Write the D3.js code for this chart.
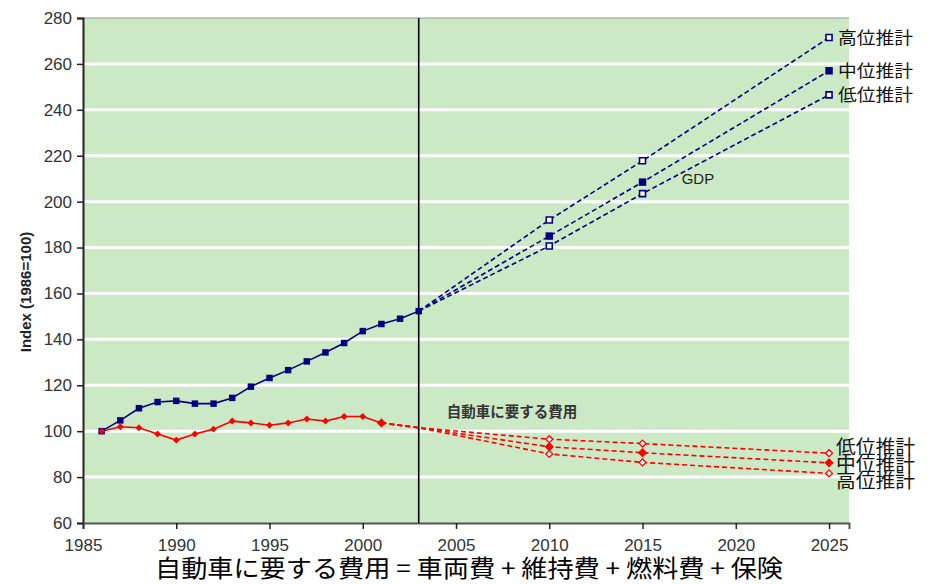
<!DOCTYPE html>
<html><head><meta charset="utf-8">
<script src="https://cdn.jsdelivr.net/npm/d3@7"></script>
<style>
body{margin:0;background:#fff;}
svg{display:block;}
</style></head>
<body><svg id="c" width="928" height="584"></svg>
<script>
// ---- data ----
const histYears = [1986,1987,1988,1989,1990,1991,1992,1993,1994,1995,1996,1997,1998,1999,2000,2001,2002,2003];
const gdpHist   = [100,104.7,110,112.7,113.2,112,112,114.5,119.4,123.2,126.6,130.4,134.3,138.4,143.6,146.7,149,152.3];
const costYears = [1986,1987,1988,1989,1990,1991,1992,1993,1994,1995,1996,1997,1998,1999,2000,2001];
const costHist  = [100,101.9,101.5,98.8,96.1,98.8,100.9,104.4,103.6,102.6,103.6,105.3,104.4,106.4,106.4,103.6];
const bridgeYears = [2001,2003];
const costBridge  = [103.6,101.5];
const projYears = [2010,2015,2025];
const gdpHigh = [192,217.8,271.5];
const gdpMid  = [185,208.5,257];
const gdpLow  = [180.7,203.5,246.5];
const costLow  = [96.5,94.6,90.4];
const costMid  = [93.2,90.6,86.2];
const costHigh = [90.1,86.4,81.6];
const scenarioNames = ["高位推計","中位推計","低位推計"];
const xTicks = [1985,1990,1995,2000,2005,2010,2015,2020,2025];
const yTicks = [60,80,100,120,140,160,180,200,220,240,260,280];
const dividerYear = 2003;
const yLabel = "Index (1986=100)";
const gdpLabel = "GDP";
const costLabel = "自動車に要する費用";
const caption = "自動車に要する費用 = 車両費 + 維持費 + 燃料費 + 保険";

// ---- layout ----
const L = 83, R = 849, T = 18, B = 523;
const NAVY = "#000080", RED = "#ff0000";
const latin = "'Liberation Sans', Arial, sans-serif";
const cjk = "'Noto Sans CJK JP', 'Noto Sans', sans-serif";

const svg = d3.select("#c");
const x = d3.scaleLinear().domain([1985, 2026.07]).range([L, R]);
const y = d3.scaleLinear().domain([60, 280]).range([B, T]);

// background
svg.append("rect").attr("x", L).attr("y", T).attr("width", R - L).attr("height", B - T).attr("fill", "#cce9c5");
// grid
svg.append("g").selectAll("line").data(yTicks.filter(v => v > 60 && v < 280)).join("line")
  .attr("x1", L).attr("x2", R).attr("y1", d => y(d)).attr("y2", d => y(d))
  .attr("stroke", "#fff").attr("stroke-width", 3);
// top border
svg.append("line").attr("x1", L).attr("x2", R).attr("y1", T).attr("y2", T).attr("stroke", "#999").attr("stroke-width", 1);

// axes
const yAxis = svg.append("g").attr("transform", `translate(${L},0)`)
  .call(d3.axisLeft(y).tickValues(yTicks).tickSize(6).tickPadding(5));
const xAxis = svg.append("g").attr("transform", `translate(0,${B})`)
  .call(d3.axisBottom(x).tickValues(xTicks).tickFormat(d3.format("d")).tickSize(6).tickPadding(10));
[yAxis, xAxis].forEach(a => {
  a.attr("font-size", 17).attr("font-family", latin);
  a.select(".domain").attr("stroke", "#222").attr("stroke-width", 2);
  a.selectAll(".tick line").attr("stroke", "#222").attr("stroke-width", 1.5);
  a.selectAll("text").attr("font-family", latin).attr("font-size", 17).attr("fill", "#333");
});
xAxis.select(".domain").attr("stroke", "#555");

// y label
svg.append("text").attr("transform", "translate(31,292) rotate(-90)")
  .attr("text-anchor", "middle").attr("font-family", latin).attr("font-weight", "bold")
  .attr("font-size", 15).attr("fill", "#222").text(yLabel);

// divider
svg.append("line").attr("x1", x(dividerYear)).attr("x2", x(dividerYear)).attr("y1", T).attr("y2", B)
  .attr("stroke", "#000").attr("stroke-width", 1.6);

const line = d3.line().x(d => x(d[0])).y(d => y(d[1]));
const zip = (xs, ys) => xs.map((v, i) => [v, ys[i]]);

// ---- GDP projections ----
const gdpStart = [histYears[histYears.length - 1], gdpHist[gdpHist.length - 1]];
const gdpProj = [gdpHigh, gdpMid, gdpLow];
gdpProj.forEach(s => {
  svg.append("path").datum([gdpStart].concat(zip(projYears, s))).attr("d", line)
    .attr("fill", "none").attr("stroke", NAVY).attr("stroke-width", 1.6).attr("stroke-dasharray", "5,3");
});
// ---- cost projections ----
const costProj = [costLow, costMid, costHigh];
const costStartPts = zip(bridgeYears, costBridge);
costProj.forEach(s => {
  svg.append("path").datum(costStartPts.concat(zip(projYears, s))).attr("d", line)
    .attr("fill", "none").attr("stroke", RED).attr("stroke-width", 1.6).attr("stroke-dasharray", "5,3");
});

// ---- history lines ----
svg.append("path").datum(zip(histYears, gdpHist)).attr("d", line)
  .attr("fill", "none").attr("stroke", NAVY).attr("stroke-width", 1.6);
svg.append("path").datum(zip(costYears, costHist)).attr("d", line)
  .attr("fill", "none").attr("stroke", RED).attr("stroke-width", 1.6);

// markers
const sq = d3.symbol().type(d3.symbolSquare);
svg.append("g").selectAll("path").data(zip(histYears, gdpHist)).join("path")
  .attr("transform", d => `translate(${x(d[0])},${y(d[1])})`)
  .attr("d", sq.size(42)()).attr("fill", NAVY);
svg.append("g").selectAll("path").data(zip(costYears, costHist)).join("path")
  .attr("transform", d => `translate(${x(d[0])},${y(d[1])}) rotate(45)`)
  .attr("d", (d, i) => sq.size(i === costYears.length - 1 ? 44 : 24)()).attr("fill", RED);

const openFlags = [true, false, true];
gdpProj.forEach((s, k) => {
  svg.append("g").selectAll("path").data(zip(projYears, s)).join("path")
    .attr("transform", d => `translate(${x(d[0])},${y(d[1])})`)
    .attr("d", sq.size(openFlags[k] ? 36 : 56)())
    .attr("fill", openFlags[k] ? "#fff" : NAVY).attr("stroke", NAVY).attr("stroke-width", openFlags[k] ? 1.6 : 0);
});
costProj.forEach((s, k) => {
  svg.append("g").selectAll("path").data(zip(projYears, s)).join("path")
    .attr("transform", d => `translate(${x(d[0])},${y(d[1])}) rotate(45)`)
    .attr("d", sq.size(openFlags[k] ? 24 : 44)())
    .attr("fill", openFlags[k] ? "#fff" : RED).attr("stroke", RED).attr("stroke-width", openFlags[k] ? 1.3 : 0);
});

// scenario labels
const lastIdx = projYears.length - 1;
gdpProj.forEach((s, k) => {
  svg.append("text").attr("x", x(projYears[lastIdx]) + 9).attr("y", y(s[lastIdx]) + 6)
    .attr("font-family", cjk).attr("font-size", 17).attr("fill", "#111")
    .attr("textLength", 75).attr("lengthAdjust", "spacingAndGlyphs").text(scenarioNames[k]);
});
const costNames = [scenarioNames[2], scenarioNames[1], scenarioNames[0]];
const costLabelShift = [-6, 1, 8];
costProj.forEach((s, k) => {
  svg.append("text").attr("x", x(projYears[lastIdx]) + 7).attr("y", y(s[lastIdx]) + 7 + costLabelShift[k])
    .attr("font-family", cjk).attr("font-size", 19).attr("fill", "#111")
    .attr("textLength", 79).attr("lengthAdjust", "spacingAndGlyphs").text(costNames[k]);
});

// series labels
svg.append("text").attr("x", x(2017.1)).attr("y", y(207.5))
  .attr("font-family", latin).attr("font-size", 15).attr("fill", "#222").text(gdpLabel);
svg.append("text").attr("x", x(2004.5)).attr("y", y(106.3))
  .attr("font-family", cjk).attr("font-size", 14.5).attr("font-weight", "bold").attr("fill", "#333").text(costLabel);

// caption
svg.append("text").attr("x", 155).attr("y", 577)
  .attr("font-family", cjk).attr("font-size", 24).attr("fill", "#000")
  .attr("textLength", 628).attr("lengthAdjust", "spacingAndGlyphs").text(caption);
</script></body></html>
